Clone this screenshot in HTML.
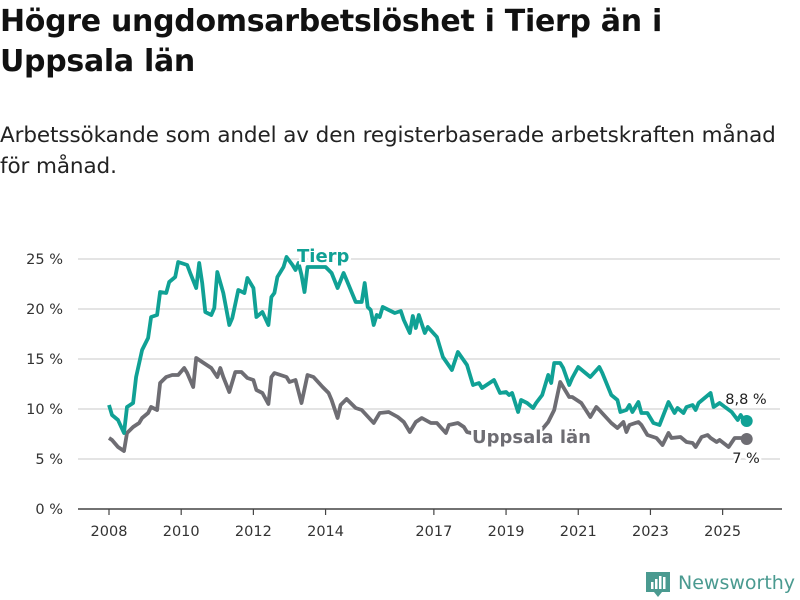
<!DOCTYPE html>
<html><head><meta charset="utf-8">
<style>
body{margin:0;background:#fff;width:800px;height:600px;overflow:hidden;font-family:"DejaVu Sans",sans-serif;}
#title{position:absolute;left:0;top:2px;font-size:30px;font-weight:bold;line-height:40px;color:#111;margin:0;letter-spacing:-0.3px;}
#sub{position:absolute;left:0;top:120px;font-size:21.5px;line-height:31px;color:#222;margin:0;letter-spacing:-0.1px;}
svg{position:absolute;left:0;top:0;}
</style></head><body>
<h1 id="title">Högre ungdomsarbetslöshet i Tierp än i<br>Uppsala län</h1>
<p id="sub">Arbetssökande som andel av den registerbaserade arbetskraften månad<br>för månad.</p>
<svg id="chart" width="800" height="600"></svg>
<script>
const yTicks=[0,5,10,15,20,25];
const xTickYears=[2008,2010,2012,2014,2017,2019,2021,2023,2025];
const tierpMonths=[0,1,3,5,6,8,9,11,13,14,16,17,19,20,22,23,26,27,29,30,31,32,34,35,36,38,40,41,43,45,46,48,49,51,53,54,55,56,58,59,61,62,63,64,65,66,72,74,76,78,79,82,84,85,86,87,88,89,90,91,93,95,97,98,100,101,102,103,105,106,109,111,114,116,119,121,123,124,128,130,132,133,134,136,137,139,141,142,144,146,147,148,150,151,153,154,156,160,163,164,167,169,170,172,173,174,176,177,179,180,181,183,186,188,189,191,192,194,195,196,200,201,203,207,209,210,211,212];
const tierpValues=[10.4,9.4,8.9,7.6,10.2,10.6,13.2,15.9,17.1,19.2,19.4,21.7,21.6,22.7,23.2,24.7,24.4,23.6,22.1,24.6,22.6,19.7,19.4,20.1,23.7,21.6,18.4,19.1,21.9,21.6,23.1,22.1,19.2,19.7,18.4,21.2,21.6,23.2,24.2,25.2,24.4,23.9,24.6,23.4,21.7,24.2,24.2,23.6,22.1,23.6,22.9,20.7,20.7,22.6,20.2,19.9,18.4,19.4,19.2,20.2,19.9,19.6,19.8,18.9,17.6,19.3,18.1,19.4,17.6,18.2,17.2,15.2,13.9,15.7,14.4,12.4,12.6,12.1,12.9,11.6,11.7,11.4,11.6,9.7,10.9,10.6,10.1,10.6,11.4,13.4,12.6,14.6,14.6,14.1,12.4,13.1,14.2,13.2,14.2,13.6,11.4,10.9,9.7,9.9,10.4,9.7,10.7,9.6,9.6,9.1,8.6,8.4,10.7,9.6,10.1,9.6,10.2,10.4,9.9,10.6,11.6,10.2,10.6,9.7,8.9,9.4,8.9,8.8];
const uppsalaMonths=[0,1,3,5,6,8,10,11,13,14,16,17,19,21,23,25,26,28,29,31,34,36,37,38,40,42,44,46,48,49,51,53,54,55,57,59,60,62,64,66,68,71,73,74,76,77,79,82,84,88,90,93,96,98,100,102,104,107,109,112,113,116,118,119,123,128,133,138,143,146,148,150,151,153,154,157,160,162,163,167,169,171,172,173,176,177,179,182,184,186,187,190,192,194,195,197,199,200,202,203,206,208,210,212];
const uppsalaValues=[7.1,6.9,6.2,5.8,7.6,8.2,8.6,9.1,9.6,10.2,9.9,12.6,13.2,13.4,13.4,14.1,13.6,12.2,15.1,14.7,14.1,13.2,14.1,13.2,11.7,13.7,13.7,13.1,12.9,11.9,11.6,10.5,13.2,13.6,13.4,13.2,12.7,12.9,10.6,13.4,13.2,12.2,11.6,10.9,9.1,10.4,11.0,10.1,9.9,8.6,9.6,9.7,9.2,8.7,7.7,8.7,9.1,8.6,8.6,7.6,8.4,8.6,8.2,7.7,7.4,7.0,6.9,7.1,7.6,8.7,9.9,12.7,12.2,11.2,11.2,10.6,9.2,10.2,9.9,8.6,8.1,8.7,7.7,8.4,8.7,8.4,7.4,7.1,6.4,7.6,7.1,7.2,6.7,6.6,6.2,7.2,7.4,7.1,6.7,6.9,6.2,7.1,7.1,7.0];

const NS='http://www.w3.org/2000/svg';
const svg=document.getElementById('chart');
const FONT='DejaVu Sans, sans-serif';
const xS=m=>109+m*3.008;
const yS=v=>509-v*10;
function mk(tag,attrs,parent){const e=document.createElementNS(NS,tag);for(const k in attrs)e.setAttribute(k,attrs[k]);(parent||svg).appendChild(e);return e;}

yTicks.forEach(t=>{
  if(t>0){const g=mk('line',{x1:78,x2:780,y1:yS(t),y2:yS(t),stroke:'#dcdcdc','stroke-width':1.5});
  
  }
  const tx=mk('text',{x:63,y:yS(t)+5,'text-anchor':'end','font-size':14.5,fill:'#333','font-family':FONT});
  tx.textContent=t+' %';
  
  
});
const ax=mk('line',{x1:78,x2:782,y1:509,y2:509,stroke:'#444','stroke-width':1.5});


xTickYears.forEach(y=>{
  const x=xS((y-2008)*12);
  const tk=mk('line',{x1:x,x2:x,y1:509,y2:515,stroke:'#444','stroke-width':1.2});
  
  
  const tx=mk('text',{x:x,y:536,'text-anchor':'middle','font-size':14.5,fill:'#333','font-family':FONT});
  tx.textContent=y;
  
  
});
function series(months,vals,color,name){
  const d=months.map((m,i)=>(i?'L':'M')+xS(m).toFixed(1)+','+yS(vals[i]).toFixed(1)).join('');
  const p=mk('path',{d:d,fill:'none',stroke:color,'stroke-width':3.8,'stroke-linejoin':'round'});
  
  
  const n=months.length-1;
  const c=mk('circle',{cx:xS(months[n]),cy:yS(vals[n]),r:6,fill:color});
  
  
}
series(uppsalaMonths,uppsalaValues,'#6e6d73','uppsala');
series(tierpMonths,tierpValues,'#10a195','tierp');
function label(txt,x,y,color,size,weight,anchor,name){
  const t=mk('text',{x:x,y:y,fill:color,'font-size':size,'font-weight':weight,'text-anchor':anchor,stroke:'#fff','stroke-width':5,'paint-order':'stroke','font-family':FONT});
  t.textContent=txt;
  
  
}
label('Tierp',297,262,'#10a195',18,'bold','start','tierp-label');
label('Uppsala län',472,443,'#6e6d73',18,'bold','start','uppsala-label');
label('8,8 %',746,404,'#222',14.5,'normal','middle','tierp-last-value');
label('7 %',746,463,'#222',14.5,'normal','middle','uppsala-last-value');
const lg=mk('g',{});


mk('path',{d:'M646,572h24v20h-8l-4,5l-4,-5h-8z',fill:'#4a9a90'},lg);
mk('rect',{x:651,y:582,width:2.5,height:7,fill:'#fff'},lg);
mk('rect',{x:655,y:579,width:2.5,height:10,fill:'#fff'},lg);
mk('rect',{x:659,y:576,width:2.5,height:13,fill:'#fff'},lg);
mk('rect',{x:663,y:577,width:2.5,height:12,fill:'#fff'},lg);
const lt=mk('text',{x:678,y:589,fill:'#4a9a90','font-size':19,'font-family':FONT},lg);
lt.textContent='Newsworthy';
</script>
</body></html>
